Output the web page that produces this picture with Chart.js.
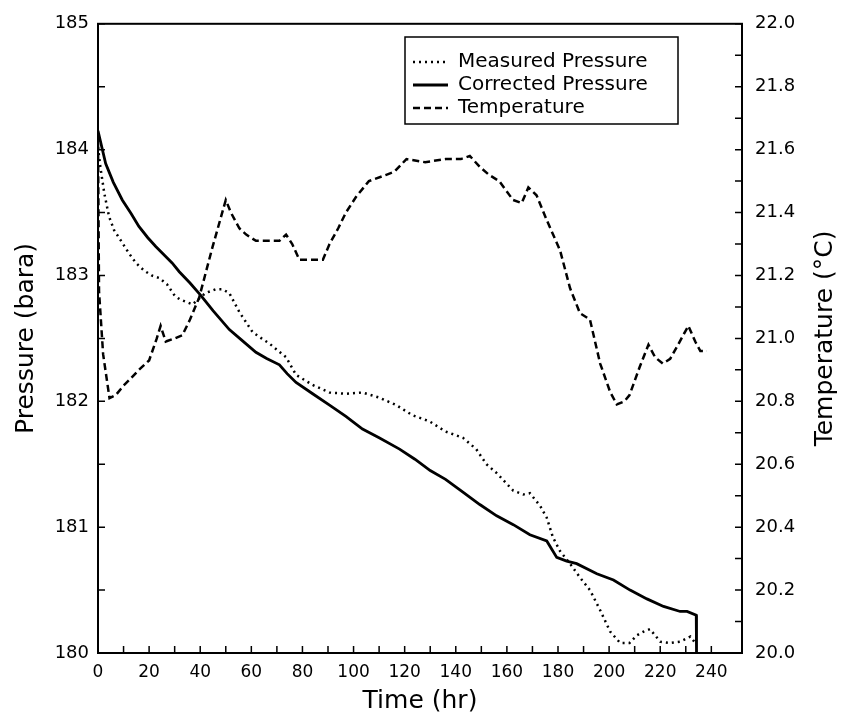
<!DOCTYPE html>
<html>
<head>
<meta charset="utf-8">
<script src="https://cdn.jsdelivr.net/npm/chart.js@4.4.1/dist/chart.umd.min.js"></script>
<style>
  html, body { margin: 0; padding: 0; background: #fff; }
  #wrap { width: 843px; height: 724px; }
</style>
</head>
<body>
<div id="wrap"><canvas id="chart" width="843" height="724"></canvas></div>
<script>
// ---- data ----
const measuredTime = [0, 1, 2.5, 4.3, 6.3, 9.5, 12, 14.8, 18, 21, 24, 27, 30, 32, 37, 42, 46, 48.7, 51.4, 55.3,
  60.5, 64, 67, 73.6, 77.5, 84, 90.6, 97, 103.5, 110, 116.7, 123, 129.8, 136, 142.8, 148, 152, 156, 162.5, 166.4,
  169, 173, 175.6, 178, 180.8, 184.7, 188.6, 192.5, 196.5, 200.4, 204.3, 208, 210.8, 213.5, 216, 220, 223.9, 227.8,
  231.8, 233.7];
const measuredP = [184.02, 183.85, 183.65, 183.47, 183.36, 183.26, 183.18, 183.10, 183.04, 183.0, 182.98, 182.93,
  182.84, 182.81, 182.77, 182.86, 182.89, 182.89, 182.86, 182.71, 182.55, 182.50, 182.46, 182.35, 182.21, 182.13,
  182.07, 182.06, 182.07, 182.03, 181.97, 181.89, 181.84, 181.76, 181.71, 181.62, 181.50, 181.43, 181.29, 181.26,
  181.27, 181.17, 181.075, 180.92, 180.81, 180.71, 180.60, 180.50, 180.34, 180.17, 180.08, 180.08, 180.14, 180.17,
  180.19, 180.09, 180.08, 180.09, 180.13, 180.08];

const correctedTime = [0, 3, 6, 9.5, 13, 16, 19.5, 22.6, 26, 29, 31.8, 36, 40.3, 45, 51.4, 56, 61.8, 66, 71, 74,
  77.5, 84, 90.6, 97, 103.5, 110, 118, 124, 130, 136, 142, 149.4, 156, 162.5, 169, 175.6, 179.5, 183.4, 187.3,
  195.2, 201.7, 208.2, 214.8, 221.3, 227.8, 230.5, 234.1, 234.2];
const correctedP = [184.15, 183.89, 183.74, 183.60, 183.49, 183.39, 183.30, 183.23, 183.16, 183.10, 183.03, 182.94,
  182.84, 182.72, 182.57, 182.49, 182.39, 182.34, 182.29, 182.22, 182.15, 182.06, 181.97, 181.88, 181.78, 181.71,
  181.62, 181.54, 181.45, 181.38, 181.29, 181.18, 181.09, 181.02, 180.94, 180.89, 180.76, 180.73, 180.71, 180.63,
  180.58, 180.50, 180.43, 180.37, 180.33, 180.33, 180.30, 180.0];

const tempTime = [0, 0.4, 2, 4.5, 7, 10, 12.5, 16, 20, 23, 24.5, 26.5, 30, 33, 36, 39.6, 44.8, 50, 52, 55.3, 58,
  61.8, 66, 71, 73.6, 76, 78.8, 88, 90.6, 94, 97, 101, 106, 112.8, 116, 120.7, 128, 136, 142, 145.5, 149.4, 153,
  157, 162.4, 165.8, 168.4, 171.6, 175.6, 180.8, 184.7, 188.6, 192.5, 196.5, 200.4, 203, 206, 208, 212, 215.4, 218,
  221, 223.9, 227, 231, 233.7, 235.7, 238.3];
const tempC = [21.62, 21.15, 20.95, 20.81, 20.82, 20.85, 20.87, 20.90, 20.93, 21.0, 21.04, 20.99, 21.0, 21.01,
  21.06, 21.13, 21.29, 21.44, 21.40, 21.35, 21.33, 21.31, 21.31, 21.31, 21.33, 21.30, 21.25, 21.25, 21.30, 21.35,
  21.40, 21.45, 21.50, 21.52, 21.53, 21.57, 21.56, 21.57, 21.57, 21.58, 21.545, 21.52, 21.50, 21.44, 21.43, 21.48,
  21.455, 21.376, 21.28, 21.16, 21.08, 21.06, 20.92, 20.83, 20.79, 20.80, 20.82, 20.91, 20.98, 20.94, 20.92,
  20.935, 20.98, 21.04, 20.99, 20.96, 20.96];

const seriesLabels = ["Measured Pressure", "Corrected Pressure", "Temperature"];

const FONT = "'DejaVu Sans', 'Open Sans', sans-serif";
const pts = (xs, ys) => xs.map((x, i) => ({ x, y: ys[i] }));

// inward tick marks, frame, right-hand title and the boxed legend
const framePlugin = {
  id: "framePlugin",
  afterDraw(chart) {
    const { ctx, chartArea: a, scales } = chart;
    ctx.save();
    ctx.strokeStyle = "#000";
    ctx.lineWidth = 2;
    ctx.strokeRect(a.left, a.top, a.right - a.left, a.bottom - a.top);

    ctx.lineWidth = 1.5;
    const len = 7;
    ctx.beginPath();
    scales.x.ticks.forEach((t) => {
      if (t.value <= 0 || t.value > 250) return;
      const px = scales.x.getPixelForValue(t.value);
      ctx.moveTo(px, a.bottom);
      ctx.lineTo(px, a.bottom - len);
    });
    scales.yP.ticks.forEach((t) => {
      const py = scales.yP.getPixelForValue(t.value);
      ctx.moveTo(a.left, py);
      ctx.lineTo(a.left + len, py);
    });
    scales.yT.ticks.forEach((t) => {
      const py = scales.yT.getPixelForValue(t.value);
      ctx.moveTo(a.right, py);
      ctx.lineTo(a.right - len, py);
    });
    ctx.stroke();

    // right title reads bottom-to-top like the left one
    ctx.save();
    ctx.translate(825, (a.top + a.bottom) / 2);
    ctx.rotate(-Math.PI / 2);
    ctx.font = "25px " + FONT;
    ctx.fillStyle = "#000";
    ctx.textAlign = "center";
    ctx.textBaseline = "middle";
    ctx.fillText("Temperature (°C)", 0, 0);
    ctx.restore();

    // legend
    const box = { x: 405, y: 37, w: 273, h: 87 };
    ctx.fillStyle = "#fff";
    ctx.fillRect(box.x, box.y, box.w, box.h);
    ctx.lineWidth = 1.5;
    ctx.strokeRect(box.x, box.y, box.w, box.h);
    const rows = [62, 85, 108];
    chart.data.datasets.forEach((ds, i) => {
      const y = rows[i];
      ctx.save();
      ctx.lineWidth = ds.borderWidth;
      ctx.setLineDash(ds.borderDash || []);
      ctx.beginPath();
      ctx.moveTo(413, y);
      ctx.lineTo(448, y);
      ctx.stroke();
      ctx.restore();
      ctx.font = "20px " + FONT;
      ctx.fillStyle = "#000";
      ctx.textAlign = "left";
      ctx.textBaseline = "middle";
      ctx.fillText(ds.label, 458, y);
    });
    ctx.restore();
  },
};

new Chart(document.getElementById("chart"), {
  type: "line",
  data: {
    datasets: [
      {
        label: seriesLabels[0],
        data: pts(measuredTime, measuredP),
        yAxisID: "yP",
        borderColor: "#000",
        borderWidth: 2.5,
        borderDash: [2, 4],
      },
      {
        label: seriesLabels[1],
        data: pts(correctedTime, correctedP),
        yAxisID: "yP",
        borderColor: "#000",
        borderWidth: 2.8,
      },
      {
        label: seriesLabels[2],
        data: pts(tempTime, tempC),
        yAxisID: "yT",
        borderColor: "#000",
        borderWidth: 2.5,
        borderDash: [7, 4],
      },
    ],
  },
  options: {
    responsive: false,
    animation: false,
    layout: { padding: { top: 19, right: 0, bottom: 0, left: 0 } },
    elements: { point: { radius: 0 }, line: { tension: 0 } },
    plugins: { legend: { display: false }, tooltip: { enabled: false } },
    scales: {
      x: {
        type: "linear",
        min: 0,
        max: 252,
        afterFit: (s) => { s.height = 71; },
        grid: { display: false, drawTicks: false },
        border: { display: false },
        ticks: {
          stepSize: 10,
          autoSkip: false,
          maxRotation: 0,
          padding: 9,
          color: "#000",
          font: { family: FONT, size: 17 },
          callback: (v) => (v % 20 === 0 && v <= 240 ? String(v) : ""),
        },
        title: {
          display: true,
          text: "Time (hr)",
          color: "#000",
          font: { family: FONT, size: 25 },
          padding: { top: 0, bottom: 8 },
        },
      },
      yP: {
        type: "linear",
        position: "left",
        min: 180,
        max: 185,
        afterFit: (s) => { s.width = 98; },
        grid: { display: false, drawTicks: false },
        border: { display: false },
        ticks: {
          stepSize: 0.5,
          autoSkip: false,
          padding: 9,
          color: "#000",
          font: { family: FONT, size: 18 },
          callback: (v) => (Math.abs(v - Math.round(v)) < 1e-6 ? String(Math.round(v)) : ""),
        },
        title: {
          display: true,
          text: "Pressure (bara)",
          color: "#000",
          font: { family: FONT, size: 25 },
          padding: { top: 11, bottom: 0 },
        },
      },
      yT: {
        type: "linear",
        position: "right",
        min: 20,
        max: 22,
        afterFit: (s) => { s.width = 101; },
        grid: { display: false, drawTicks: false },
        border: { display: false },
        ticks: {
          stepSize: 0.1,
          autoSkip: false,
          padding: 13,
          color: "#000",
          font: { family: FONT, size: 18 },
          callback: (v) => {
            const k = Math.round(v * 10);
            return k % 2 === 0 ? (k / 10).toFixed(1) : "";
          },
        },
        title: { display: false },
      },
    },
  },
  plugins: [framePlugin],
});
</script>
</body>
</html>
